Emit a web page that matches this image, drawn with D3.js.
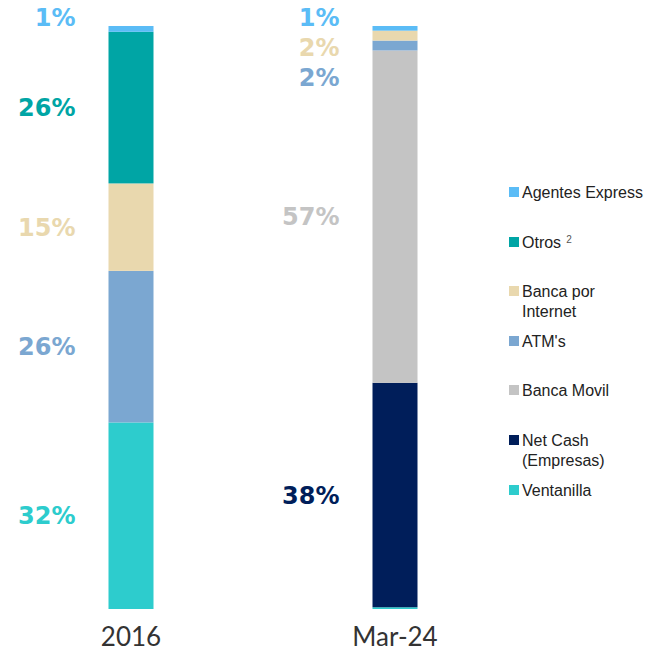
<!DOCTYPE html>
<html>
<head>
<meta charset="utf-8">
<script src="https://cdn.jsdelivr.net/npm/d3@7"></script>
<style>
  body { margin: 0; background: #fff; }
  svg { display: block; }
</style>
</head>
<body>
<div id="chart"></div>
<script>
// categories (bars) and series, bottom of the stack first
let periods = ['2016', 'Mar-24'];
let channels = ['Ventanilla', 'Net Cash (Empresas)', 'Banca Movil', "ATM's", 'Banca por Internet', 'Otros', 'Agentes Express'];
let colors = ['#2dcccd', '#001e5a', '#c4c4c4', '#7ba7d1', '#e9d8ae', '#00a5a5', '#5bbcf6'];

// share of transactions per channel, %
let share2016 = [32, 0, 0, 26, 15, 26, 1];
let shareMar24 = [0.3, 38.5, 57, 1.7, 1.7, 0, 0.8];
// printed labels ('' = none)
let labels2016 = ['32%', '', '', '26%', '15%', '26%', '1%'];
let labelsMar24 = ['', '38%', '57%', '2%', '2%', '', '1%'];

// legend, top to bottom (lines split for wrapping)
let legendItems = [
	{ key: 'Agentes Express', lines: ['Agentes Express'] },
	{ key: 'Otros', lines: ['Otros'], sup: '2' },
	{ key: 'Banca por Internet', lines: ['Banca por', 'Internet'] },
	{ key: "ATM's", lines: ["ATM's"] },
	{ key: 'Banca Movil', lines: ['Banca Movil'] },
	{ key: 'Net Cash (Empresas)', lines: ['Net Cash', '(Empresas)'] },
	{ key: 'Ventanilla', lines: ['Ventanilla'] },
];

let width = 653,
	height = 653;

let rows = periods.map((p, i) => {
	let vals = i == 0 ? share2016 : shareMar24;
	let row = { period: p };
	channels.forEach((c, j) => (row[c] = vals[j]));
	return row;
});
let labelRows = [labels2016, labelsMar24];

let svg = d3.select('#chart').append('svg').attr('width', width).attr('height', height);

let x = d3.scalePoint().domain(periods).range([131, 395]);
let y = d3.scaleLinear().domain([0, 100]).range([609, 26]);
let color = d3.scaleOrdinal().domain(channels).range(colors);
let barWidth = 45;

let stack = d3.stack().keys(channels);
let series = stack(rows);

svg.selectAll('g.series')
	.data(series)
	.enter()
	.append('g')
	.attr('class', 'series')
	.attr('fill', (d) => color(d.key))
	.selectAll('rect')
	.data((d) => d)
	.enter()
	.append('rect')
	.attr('x', (d) => x(d.data.period) - barWidth / 2)
	.attr('y', (d) => y(d[1]))
	.attr('width', barWidth)
	.attr('height', (d) => Math.max(0, y(d[0]) - y(d[1])));

// value labels, left of each bar; small ones pushed apart from the top down
periods.forEach((p, i) => {
	let items = [];
	series.forEach((s, j) => {
		let txt = labelRows[i][j];
		if (txt === '') return;
		let seg = s[i];
		items.push({ text: txt, key: s.key, mid: (y(seg[0]) + y(seg[1])) / 2 });
	});
	items.sort((a, b) => a.mid - b.mid);
	let prev = -Infinity;
	items.forEach((it, k) => {
		let pos = k == 0 ? Math.min(it.mid, 17) : it.mid;
		pos = Math.max(pos, prev + 30);
		it.y = pos;
		prev = pos;
	});
	svg.append('g')
		.selectAll('text')
		.data(items)
		.enter()
		.append('text')
		.attr('x', x(p) - barWidth / 2 - 33)
		.attr('y', (d) => d.y)
		.attr('dy', '0.36em')
		.attr('text-anchor', 'end')
		.style('font-family', '"DejaVu Sans", sans-serif')
		.style('font-weight', 'bold')
		.style('font-size', '24px')
		.attr('fill', (d) => color(d.key))
		.text((d) => d.text);
});

// category labels under the bars
svg.append('g')
	.selectAll('text')
	.data(periods)
	.enter()
	.append('text')
	.attr('x', (d) => x(d))
	.attr('y', 646)
	.attr('text-anchor', 'middle')
	.style('font-family', 'Lato, sans-serif')
	.style('font-size', '26px')
	.attr('fill', '#333')
	.text((d) => d);

// legend
let legendTops = [192, 242, 291, 341, 390, 440, 490];
let legend = svg.append('g');
legendItems.forEach((item, i) => {
	let g = legend.append('g').attr('transform', 'translate(509,' + legendTops[i] + ')');
	g.append('rect').attr('x', 0).attr('y', -5).attr('width', 10).attr('height', 10).attr('fill', color(item.key));
	let t = g
		.append('text')
		.attr('x', 13)
		.attr('y', 0)
		.style('font-family', '"Liberation Sans", Arial, sans-serif')
		.style('font-size', '16px')
		.attr('fill', '#222');
	item.lines.forEach((line, k) => {
		t.append('tspan')
			.attr('x', 13)
			.attr('y', k * 20)
			.attr('dy', '0.35em')
			.text(line);
	});
	if (item.sup) {
		t.append('tspan').attr('dx', 5).attr('dy', '-0.5em').style('font-size', '10px').attr('fill', '#555').text(item.sup);
	}
});
</script>
</body>
</html>
